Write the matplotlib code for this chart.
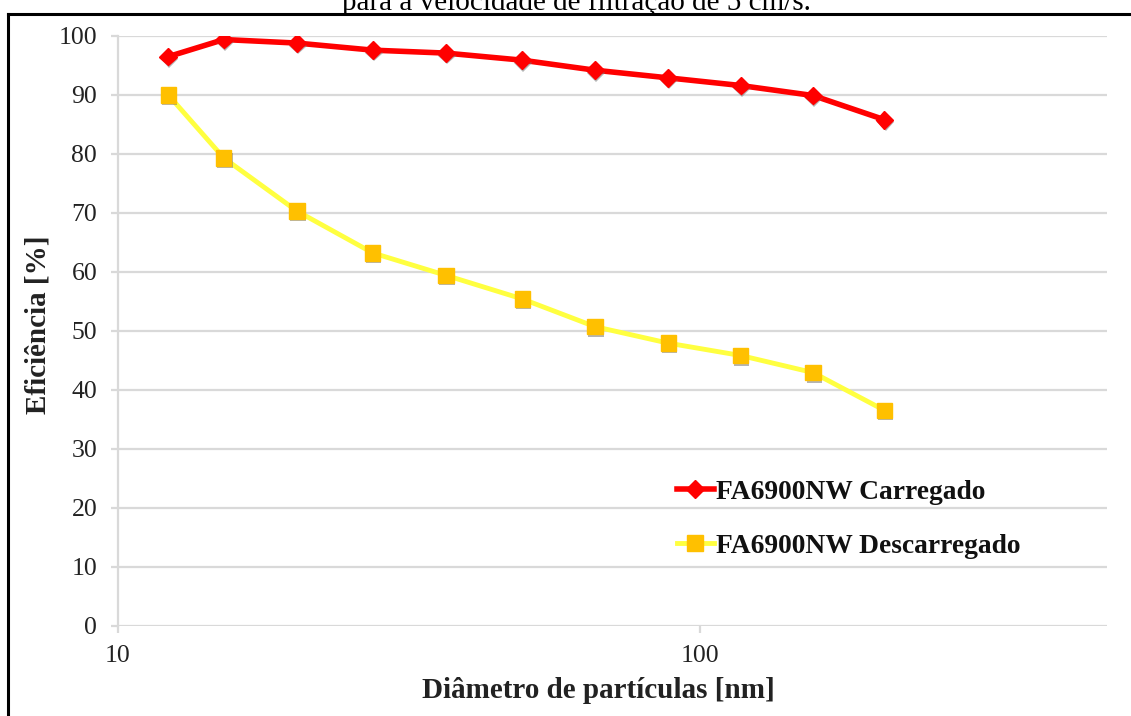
import matplotlib
matplotlib.use("Agg")
import matplotlib.pyplot as plt
import matplotlib.patheffects as pe
from matplotlib.lines import Line2D

plt.rcParams['font.family'] = ['Liberation Serif', 'DejaVu Serif']

# diametro de particulas [nm]
diametro = [12.2, 15.2, 20.3, 27.4, 36.6, 49.5, 66.0, 88.2, 117.5, 156.5, 207.5]
# eficiencia [%]
carregado = [96.5, 99.4, 98.8, 97.6, 97.1, 95.9, 94.2, 92.9, 91.6, 89.9, 85.8]
descarregado = [90.0, 79.3, 70.3, 63.2, 59.4, 55.4, 50.7, 47.9, 45.8, 42.9, 36.5]

lbl_carr = 'FA6900NW Carregado'
lbl_desc = 'FA6900NW Descarregado'
yticks = list(range(0, 101, 10))
xticks = [10, 100]

fig = plt.figure(figsize=(11.31, 7.16), dpi=100)
ax = fig.add_axes([118/1131, 1-625.5/716, (1106.7-118)/1131, (625.5-36)/716])

ax.set_xscale('log')
ax.set_xlim(10, 500)
ax.set_ylim(0, 100)

grid_c = '#d9d9d9'
for v in yticks:
    ax.axhline(v, color=grid_c, lw=1.6, zorder=1)

shadow = [pe.SimplePatchShadow(offset=(0.8, -1.8), shadow_rgbFace='#777777', alpha=0.55), pe.Normal()]

ax.plot(diametro, carregado, color='#ff0000', lw=4, zorder=3, solid_joinstyle='round')
ax.plot(diametro, carregado, ls='none', marker='D', ms=9, color='#ff0000',
        mec='#ff0000', zorder=4, path_effects=shadow)
ax.plot(diametro, descarregado, color='#ffff40', lw=3.5, zorder=3, solid_joinstyle='round')
ax.plot(diametro, descarregado, ls='none', marker='s', ms=11, color='#ffc000',
        mec='#ffc000', zorder=4, path_effects=shadow)

for s in ['top', 'right', 'bottom']:
    ax.spines[s].set_visible(False)
ax.spines['left'].set_color(grid_c)
ax.spines['left'].set_linewidth(1.6)

ax.set_yticks(yticks)
ax.set_xticks(xticks)
ax.set_xticklabels([str(t) for t in xticks])
ax.xaxis.set_minor_locator(matplotlib.ticker.NullLocator())
ax.tick_params(axis='y', length=5, width=1.6, color=grid_c, pad=10, labelsize=18.5, labelcolor='#222222')
ax.tick_params(axis='x', length=5, width=1.6, color=grid_c, pad=9, labelsize=18.5, labelcolor='#222222')

fig.text(598/1131, 1-690/716, 'Diâmetro de partículas [nm]', ha='center', va='center',
         fontsize=21, fontweight='bold', color='#222222')
fig.text(38/1131, 1-325/716, 'Eficiência [%]', ha='center', va='center', rotation=90,
         fontsize=21, fontweight='bold', color='#222222')

handles = [
    Line2D([], [], color='#ff0000', lw=4, marker='D', ms=9),
    Line2D([], [], color='#ffff40', lw=3.5, marker='s', ms=11, mfc='#ffc000', mec='#ffc000'),
]
fig.legend(handles, [lbl_carr, lbl_desc], loc='center left',
           bbox_to_anchor=(663/1131, 1-519/716), frameon=False, borderpad=0,
           handlelength=1.35, handletextpad=0.08, labelspacing=1.05,
           prop={'size': 19.8, 'weight': 'bold'}, labelcolor='#111111')

# caption line above the frame, clipped by the top edge
fig.text(576/1131, 1-9.5/716, 'para a velocidade de filtração de 5 cm/s.', ha='center',
         va='baseline', fontsize=21, color='black')

# outer frame
top = 1-14/716
left = 8/1131
fig.add_artist(Line2D([left, 1.0], [top, top], transform=fig.transFigure, color='black', lw=2.2))
fig.add_artist(Line2D([left, left], [0.0, top], transform=fig.transFigure, color='black', lw=2.2))

fig.savefig('out.png', dpi=100)
